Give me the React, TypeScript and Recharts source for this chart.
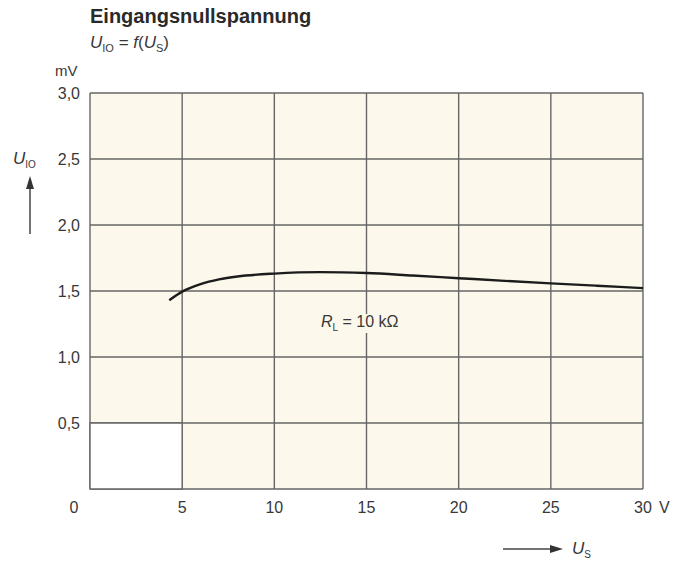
import React from 'react';
import {
  LineChart,
  Line,
  XAxis,
  YAxis,
  CartesianGrid,
  ReferenceArea,
} from 'recharts';

// U_S in V, U_IO in mV (R_L = 10 kΩ)
const usValues = [4.3, 5, 6, 7, 8, 10, 12.5, 15, 17.5, 20, 22.5, 25, 27.5, 30];
const u10Values = [1.43, 1.495, 1.552, 1.588, 1.61, 1.632, 1.643, 1.636, 1.617, 1.597, 1.577, 1.558, 1.54, 1.522];

const xTicks = [0, 5, 10, 15, 20, 25, 30];
const yTicks = [0, 0.5, 1, 1.5, 2, 2.5, 3];

const data = usValues.map((us, i) => ({ us, u: u10Values[i] }));

const FONT = '"Liberation Sans", Arial, sans-serif';
const INK = '#383838';
const GRID = '#666';
const PAPER = '#fcf8ec';

const comma = (v: number) => v.toFixed(1).replace('.', ',');

function XTick(props: any) {
  const { x, y, payload } = props;
  const v = payload.value;
  if (v === 0) {
    return (
      <text x={x - 16} y={y} dy="0.71em" textAnchor="middle" fontSize={16} fill={INK} fontFamily={FONT}>
        0
      </text>
    );
  }
  return (
    <g>
      <text x={x} y={y} dy="0.71em" textAnchor="middle" fontSize={16} fill={INK} fontFamily={FONT}>
        {v}
      </text>
      {v === 30 && (
        <text x={x + 16} y={y} dy="0.71em" textAnchor="start" fontSize={16} fill={INK} fontFamily={FONT}>
          V
        </text>
      )}
    </g>
  );
}

function YTick(props: any) {
  const { x, y, payload } = props;
  if (payload.value === 0) return null;
  return (
    <text x={x} y={y} dy="0.355em" textAnchor="end" fontSize={16} fill={INK} fontFamily={FONT}>
      {comma(payload.value)}
    </text>
  );
}

const abs = (left: number, top: number, extra: React.CSSProperties = {}): React.CSSProperties => ({
  position: 'absolute',
  left,
  top,
  fontFamily: FONT,
  color: INK,
  whiteSpace: 'nowrap',
  lineHeight: 1,
  ...extra,
});

export default function App() {
  return (
    <div style={{ position: 'absolute', left: 0, top: 0, width: 676, height: 562, background: '#fff', overflow: 'hidden' }}>
      <LineChart width={676} height={562} data={data} margin={{ top: 93, right: 33, bottom: 43, left: 50 }}>
        <CartesianGrid stroke={GRID} strokeWidth={1.4} fill={PAPER} fillOpacity={1} />
        <XAxis
          dataKey="us"
          type="number"
          domain={[0, 30]}
          ticks={xTicks}
          axisLine={false}
          tickLine={false}
          tickSize={0}
          tickMargin={13}
          height={30}
          interval={0}
          tick={<XTick />}
        />
        <YAxis
          type="number"
          domain={[0, 3]}
          ticks={yTicks}
          axisLine={false}
          tickLine={false}
          tickSize={0}
          tickMargin={10}
          width={40}
          interval={0}
          tick={<YTick />}
        />
        <ReferenceArea x1={0} x2={5} y1={0} y2={0.5} fill="#fff" fillOpacity={1} stroke={GRID} strokeWidth={1.4} />
        <Line
          type="monotone"
          dataKey="u"
          stroke="#1c1c1c"
          strokeWidth={2.4}
          dot={false}
          activeDot={false}
          isAnimationActive={false}
        />
      </LineChart>

      <div style={abs(90, 6, { fontSize: 20, fontWeight: 'bold', color: '#2a2a2a' })}>Eingangsnullspannung</div>
      <div style={abs(90, 34, { fontSize: 17 })}>
        <i>U</i>
        <sub style={{ fontSize: 11 }}>IO</sub> = <i>f</i>(<i>U</i>
        <sub style={{ fontSize: 11 }}>S</sub>)
      </div>
      <div style={abs(55, 63, { fontSize: 15 })}>mV</div>
      <div style={abs(13, 150, { fontSize: 17 })}>
        <i>U</i>
        <sub style={{ fontSize: 10 }}>IO</sub>
      </div>
      <div style={abs(318, 314, { fontSize: 16, background: PAPER, padding: '0 3px' })}>
        <i>R</i>
        <sub style={{ fontSize: 10 }}>L</sub> = 10 kΩ
      </div>
      <div style={abs(572, 540, { fontSize: 17 })}>
        <i>U</i>
        <sub style={{ fontSize: 10 }}>S</sub>
      </div>

      <svg width={676} height={562} style={{ position: 'absolute', left: 0, top: 0, pointerEvents: 'none' }}>
        <line x1={30} y1={234} x2={30} y2={186} stroke="#444" strokeWidth={1.5} />
        <polygon points="30,176 26,189 34,189" fill="#333" />
        <line x1={503} y1={549} x2={552} y2={549} stroke="#444" strokeWidth={1.5} />
        <polygon points="563,549 550,545 550,553" fill="#333" />
      </svg>
    </div>
  );
}
